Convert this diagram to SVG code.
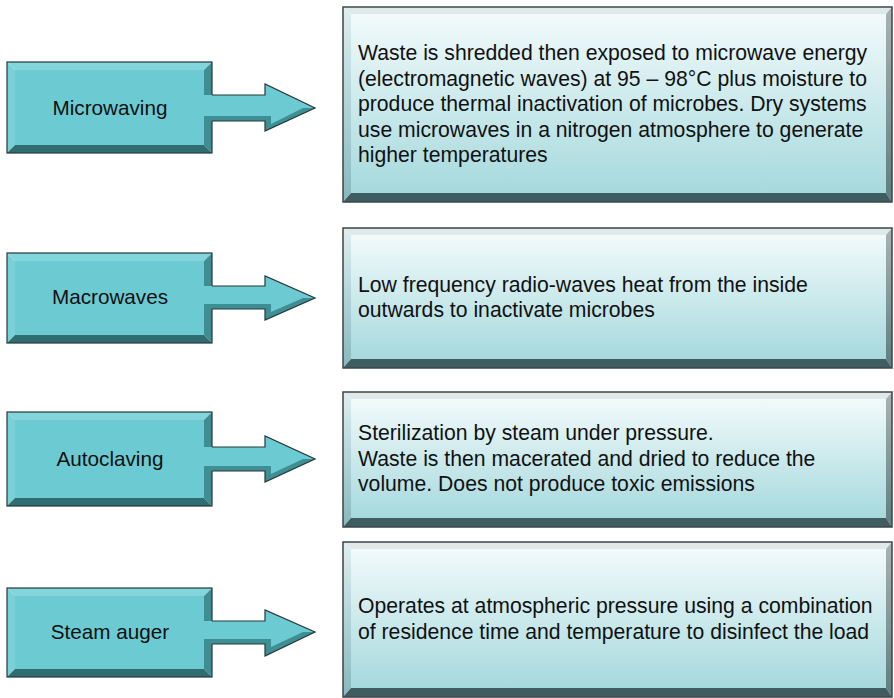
<svg xmlns="http://www.w3.org/2000/svg" width="894" height="698" viewBox="0 0 894 698">
<defs>
<linearGradient id="faceR" x1="0" y1="0" x2="0" y2="1">
<stop offset="0" stop-color="#f2fafb"/>
<stop offset="1" stop-color="#a6d9dd"/>
</linearGradient>
<linearGradient id="leftR" x1="0" y1="0" x2="0" y2="1">
<stop offset="0" stop-color="#dfeef0"/>
<stop offset="1" stop-color="#86b8bd"/>
</linearGradient>
<linearGradient id="rightR" x1="0" y1="0" x2="0" y2="1">
<stop offset="0" stop-color="#a9b3b4"/>
<stop offset="1" stop-color="#5f7d80"/>
</linearGradient>
</defs>
<style>
.lface{fill:#6ccad2}
.ltop{fill:#82d5db}
.lleft{fill:#7ad0d7}
.lright{fill:#3e8d92}
.lbot{fill:#2f6d71}
.lout{fill:none;stroke:#24393b;stroke-width:1.2}
.rface{fill:url(#faceR)}
.rtop{fill:#dfe9ea}
.rleft{fill:url(#leftR)}
.rright{fill:url(#rightR)}
.rbot{fill:#3f5d60}
.rout{fill:none;stroke:#3b4648;stroke-width:1.5}
.afill{fill:#6ccad2}
.ashade{fill:#3e8f94}
.astroke{fill:none;stroke:#24393b;stroke-width:1.2;stroke-linejoin:miter}
.lab{font-family:"Liberation Sans",Arial,sans-serif;font-size:20.7px;fill:#111;text-anchor:middle}
.desc{font-family:"Liberation Sans",Arial,sans-serif;font-size:21.2px;fill:#111}
</style>
<rect width="894" height="698" fill="#ffffff"/>

<g id="node-microwaving">
<polygon class="ltop" points="7,62 212,62 204,70 15,70"/>
<polygon class="lleft" points="7,62 15,70 15,145 7,153"/>
<polygon class="lright" points="212,62 212,153 204,145 204,70"/>
<polygon class="lbot" points="7,153 212,153 204,145 15,145"/>
<rect class="lface" x="15" y="70" width="189" height="75"/>
<rect class="lout" x="7" y="62" width="205" height="91"/>
<text class="lab" x="110" y="114.5">Microwaving</text>
</g>

<g id="node-macrowaves">
<polygon class="ltop" points="7,253 212,253 204,261 15,261"/>
<polygon class="lleft" points="7,253 15,261 15,335 7,343"/>
<polygon class="lright" points="212,253 212,343 204,335 204,261"/>
<polygon class="lbot" points="7,343 212,343 204,335 15,335"/>
<rect class="lface" x="15" y="261" width="189" height="74"/>
<rect class="lout" x="7" y="253" width="205" height="90"/>
<text class="lab" x="110" y="304">Macrowaves</text>
</g>

<g id="node-autoclaving">
<polygon class="ltop" points="7,412 212,412 204,420 15,420"/>
<polygon class="lleft" points="7,412 15,420 15,498 7,506"/>
<polygon class="lright" points="212,412 212,506 204,498 204,420"/>
<polygon class="lbot" points="7,506 212,506 204,498 15,498"/>
<rect class="lface" x="15" y="420" width="189" height="78"/>
<rect class="lout" x="7" y="412" width="205" height="94"/>
<text class="lab" x="110" y="466">Autoclaving</text>
</g>

<g id="node-steam-auger">
<polygon class="ltop" points="7,588 212,588 204,596 15,596"/>
<polygon class="lleft" points="7,588 15,596 15,669 7,677"/>
<polygon class="lright" points="212,588 212,677 204,669 204,596"/>
<polygon class="lbot" points="7,677 212,677 204,669 15,669"/>
<rect class="lface" x="15" y="596" width="189" height="73"/>
<rect class="lout" x="7" y="588" width="205" height="89"/>
<text class="lab" x="110" y="639">Steam auger</text>
</g>

<g id="connectors">
<g>
<path class="afill" d="M204,95 H265 V84 L315,108 L265,131 V121 H204 Z"/>
<path class="ashade" d="M204,116 H271 V124 L303,108 L315,108 L265,131 V121 H204 Z"/>
<path class="astroke" d="M212,95 H265 V84 L315,108 L265,131 V121 H212"/>
</g>
<g>
<path class="afill" d="M204,286 H265 V276 L315,298 L265,320 V309 H204 Z"/>
<path class="ashade" d="M204,304 H271 V312 L303,298 L315,298 L265,320 V309 H204 Z"/>
<path class="astroke" d="M212,286 H265 V276 L315,298 L265,320 V309 H212"/>
</g>
<g>
<path class="afill" d="M204,447 H265 V436 L315,459 L265,482 V471 H204 Z"/>
<path class="ashade" d="M204,466 H271 V474 L303,459 L315,459 L265,482 V471 H204 Z"/>
<path class="astroke" d="M212,447 H265 V436 L315,459 L265,482 V471 H212"/>
</g>
<g>
<path class="afill" d="M204,621 H265 V610 L315,632 L265,656 V644 H204 Z"/>
<path class="ashade" d="M204,639 H271 V647 L303,632 L315,632 L265,656 V644 H204 Z"/>
<path class="astroke" d="M212,621 H265 V610 L315,632 L265,656 V644 H212"/>
</g>
</g>

<g id="desc-microwaving">
<polygon class="rtop" points="343,7 892,7 886,14 351,14"/>
<polygon class="rleft" points="343,7 351,14 351,193 343,202"/>
<polygon class="rright" points="892,7 892,202 886,193 886,14"/>
<polygon class="rbot" points="343,202 892,202 886,193 351,193"/>
<rect class="rface" x="351" y="14" width="535" height="179"/>
<rect class="rout" x="343" y="7" width="549" height="195"/>
<text class="desc" x="358" y="60">Waste is shredded then exposed to microwave energy</text>
<text class="desc" x="358" y="85.5">(electromagnetic waves) at 95 – 98°C plus moisture to</text>
<text class="desc" x="358" y="111">produce thermal inactivation of microbes. Dry systems</text>
<text class="desc" x="358" y="136.5">use microwaves in a nitrogen atmosphere to generate</text>
<text class="desc" x="358" y="162">higher temperatures</text>
</g>

<g id="desc-macrowaves">
<polygon class="rtop" points="343,228 892,228 886,235 351,235"/>
<polygon class="rleft" points="343,228 351,235 351,359 343,368"/>
<polygon class="rright" points="892,228 892,368 886,359 886,235"/>
<polygon class="rbot" points="343,368 892,368 886,359 351,359"/>
<rect class="rface" x="351" y="235" width="535" height="124"/>
<rect class="rout" x="343" y="228" width="549" height="140"/>
<text class="desc" x="358" y="291.5">Low frequency radio-waves heat from the inside</text>
<text class="desc" x="358" y="317">outwards to inactivate microbes</text>
</g>

<g id="desc-autoclaving">
<polygon class="rtop" points="343,392 892,392 886,399 351,399"/>
<polygon class="rleft" points="343,392 351,399 351,518 343,527"/>
<polygon class="rright" points="892,392 892,527 886,518 886,399"/>
<polygon class="rbot" points="343,527 892,527 886,518 351,518"/>
<rect class="rface" x="351" y="399" width="535" height="119"/>
<rect class="rout" x="343" y="392" width="549" height="135"/>
<text class="desc" x="358" y="440">Sterilization by steam under pressure.</text>
<text class="desc" x="358" y="465.5">Waste is then macerated and dried to reduce the</text>
<text class="desc" x="358" y="491">volume. Does not produce toxic emissions</text>
</g>

<g id="desc-steam-auger">
<polygon class="rtop" points="343,542 892,542 886,549 351,549"/>
<polygon class="rleft" points="343,542 351,549 351,688 343,697"/>
<polygon class="rright" points="892,542 892,697 886,688 886,549"/>
<polygon class="rbot" points="343,697 892,697 886,688 351,688"/>
<rect class="rface" x="351" y="549" width="535" height="139"/>
<rect class="rout" x="343" y="542" width="549" height="155"/>
<text class="desc" x="358" y="613">Operates at atmospheric pressure using a combination</text>
<text class="desc" x="358" y="639">of residence time and temperature to disinfect the load</text>
</g>
</svg>
